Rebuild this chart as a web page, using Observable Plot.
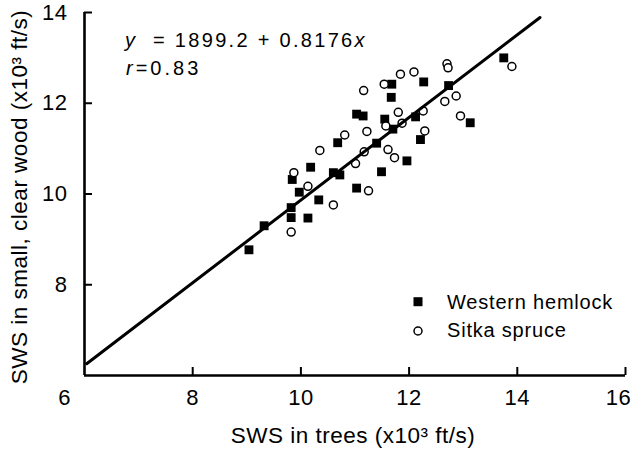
<!DOCTYPE html>
<html>
<head>
<meta charset="utf-8">
<script src="https://cdn.jsdelivr.net/npm/d3@7"></script>
<script src="https://cdn.jsdelivr.net/npm/@observablehq/plot@0.6"></script>
<style>
  html, body { margin: 0; padding: 0; background: white; }
  #chart svg text { letter-spacing: 0.5px; }
</style>
</head>
<body>
<div id="chart"></div>
<script>
// Axis ticks
const xTicks = [8, 10, 12, 14];
const xCornerTick = [6];
const xEndTick = [16];
const yTicks = [8, 10, 12, 14];

// Western hemlock (filled squares), x = SWS in trees, y = SWS in small clear wood (x10^3 ft/s)
const hemlockX = [9.04, 9.32, 9.82, 9.82, 10.13, 9.84, 9.97, 10.18, 10.33, 10.60, 10.72, 10.68, 11.03, 11.03, 11.15, 11.40, 11.49, 11.55, 11.67, 11.68, 11.70, 11.96, 12.12, 12.21, 12.27, 12.73, 13.13, 13.75];
const hemlockY = [8.77, 9.30, 9.48, 9.70, 9.47, 10.32, 10.04, 10.59, 9.87, 10.47, 10.42, 11.13, 10.13, 11.76, 11.72, 11.12, 10.49, 11.65, 12.13, 12.42, 11.43, 10.73, 11.70, 11.20, 12.47, 12.39, 11.57, 13.00];

// Sitka spruce (open circles)
const spruceX = [9.82, 9.87, 10.13, 10.60, 10.35, 10.81, 11.01, 11.17, 11.25, 11.22, 11.16, 11.54, 11.84, 11.80, 11.87, 11.61, 11.73, 11.57, 12.09, 12.26, 12.29, 12.70, 12.72, 12.87, 12.66, 12.95, 13.90];
const spruceY = [9.16, 10.47, 10.17, 9.76, 10.96, 11.30, 10.67, 10.93, 10.07, 11.38, 12.28, 12.42, 12.64, 11.80, 11.56, 10.98, 10.80, 11.50, 12.69, 11.83, 11.39, 12.87, 12.78, 12.16, 12.04, 11.72, 12.81];

// Regression line as drawn (end points)
const fitX = [6.04, 14.42];
const fitY = [6.26, 13.89];

const hemlock = hemlockX.map((x, i) => ({x, y: hemlockY[i]}));
const spruce = spruceX.map((x, i) => ({x, y: spruceY[i]}));
const fit = fitX.map((x, i) => ({x, y: fitY[i]}));

const W = 634, H = 454, mL = 84, mR = 9, mT = 12, mB = 79;
const frameW = W - mL - mR, frameH = H - mT - mB;

const chart = Plot.plot({
  width: W, height: H,
  marginLeft: mL, marginRight: mR, marginTop: mT, marginBottom: mB,
  x: {domain: [6, 16]},
  y: {domain: [6, 14]},
  style: {fontFamily: "'Liberation Sans', Arial, sans-serif", fontSize: "22px", color: "black", background: "white", overflow: "visible"},
  marks: [
    Plot.dot(hemlock, {x: "x", y: "y", symbol: "square", fill: "black", r: 5}),
    Plot.dot(spruce, {x: "x", y: "y", r: 4, fill: "white", stroke: "black", strokeWidth: 1.5}),
    Plot.line(fit, {x: "x", y: "y", stroke: "black", strokeWidth: 3}),
    Plot.ruleX([6], {stroke: "black", strokeWidth: 2.6}),
    Plot.ruleY([6], {stroke: "black", strokeWidth: 2.6}),
    Plot.tickX(xTicks.concat(xEndTick), {x: d => d, stroke: "black", strokeWidth: 2, insetTop: frameH - 8}),
    Plot.tickY(yTicks, {y: d => d, stroke: "black", strokeWidth: 2, insetRight: frameW - 8}),
    Plot.axisX({ticks: xTicks, tickSize: 0, tickPadding: 14, label: null}),
    Plot.axisX({ticks: xCornerTick, tickSize: 0, tickPadding: 14, dx: -20, label: null}),
    Plot.axisX({ticks: xEndTick, tickSize: 0, tickPadding: 14, dx: -7, label: null}),
    Plot.axisY({ticks: yTicks, tickSize: 0, tickPadding: 17, label: null})
  ]
});

document.getElementById("chart").appendChild(chart);
const svg = d3.select(chart);
const font = "'Liberation Sans', Arial, sans-serif";

// Axis titles
svg.append("text")
  .attr("x", 353).attr("y", 443)
  .attr("text-anchor", "middle")
  .style("font-family", font).style("font-size", "22.5px").style("letter-spacing", "0.5px")
  .text("SWS in trees (x10³ ft/s)");

svg.append("text")
  .attr("transform", "translate(27,197) rotate(-90)")
  .attr("text-anchor", "middle")
  .style("font-family", font).style("font-size", "22.5px").style("letter-spacing", "0.5px")
  .text("SWS in small, clear wood (x10³ ft/s)");

// Equation annotation
const eq = svg.append("text")
  .attr("x", 125).attr("y", 47)
  .attr("text-anchor", "start")
  .style("font-family", font).style("font-size", "20px").style("letter-spacing", "2.3px").style("white-space", "pre");
eq.append("tspan").style("font-style", "italic").text("y");
eq.append("tspan").text("  = 1899.2 + 0.8176");
eq.append("tspan").style("font-style", "italic").text("x");

const rr = svg.append("text")
  .attr("x", 126).attr("y", 75)
  .attr("text-anchor", "start")
  .style("font-family", font).style("font-size", "20px").style("letter-spacing", "3px");
rr.append("tspan").style("font-style", "italic").text("r");
rr.append("tspan").text("=0.83");

// Legend
const lg = svg.append("g").attr("text-anchor", "start");
lg.append("rect").attr("x", 413.5).attr("y", 297.2).attr("width", 9).attr("height", 9).attr("fill", "black");
lg.append("text").attr("x", 447).attr("y", 308.5)
  .style("font-family", font).style("font-size", "20px").style("letter-spacing", "0.8px")
  .text("Western hemlock");
lg.append("circle").attr("cx", 418).attr("cy", 331).attr("r", 4).attr("fill", "white").attr("stroke", "black").attr("stroke-width", 1.5);
lg.append("text").attr("x", 447).attr("y", 337)
  .style("font-family", font).style("font-size", "20px").style("letter-spacing", "0.8px")
  .text("Sitka spruce");
</script>
</body>
</html>
